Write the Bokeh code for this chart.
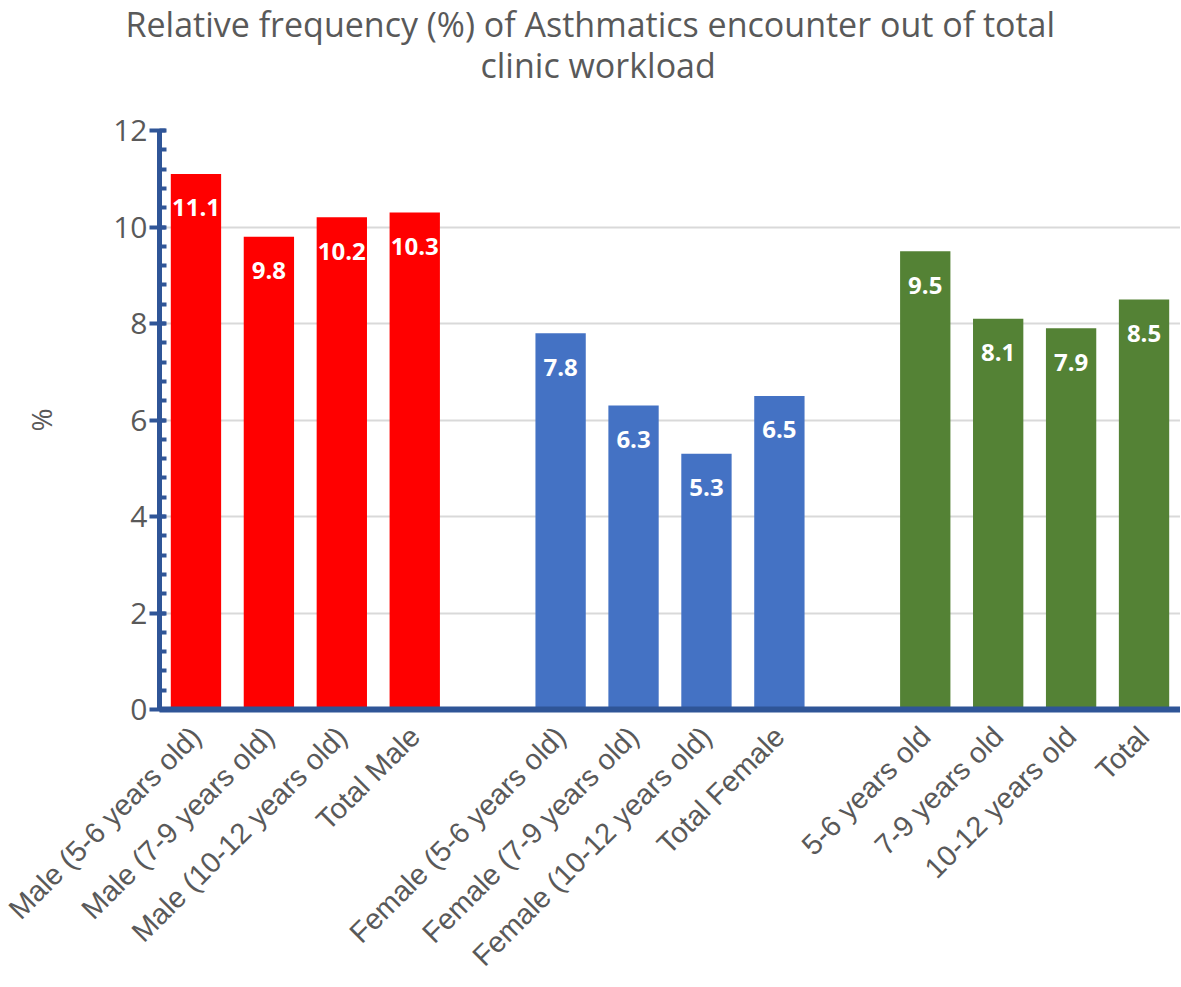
from bokeh.plotting import figure
from bokeh.models import FactorRange, Range1d, SingleIntervalTicker, Title, ColumnDataSource
from bokeh.core.properties import value
from bokeh.embed import file_html
from bokeh.resources import INLINE
import math

# ---- data ----
male_labels = ["Male (5-6 years old)", "Male (7-9 years old)", "Male (10-12 years old)", "Total Male"]
male_values = [11.1, 9.8, 10.2, 10.3]
female_labels = ["Female (5-6 years old)", "Female (7-9 years old)", "Female (10-12 years old)", "Total Female"]
female_values = [7.8, 6.3, 5.3, 6.5]
total_labels = ["5-6 years old", "7-9 years old", "10-12 years old", "Total"]
total_values = [9.5, 8.1, 7.9, 8.5]
y_ticks_interval = 2
title_lines = ["Relative frequency (%) of Asthmatics encounter out of total", "clinic workload"]
y_label = "%"

factors = male_labels + [" "] + female_labels + ["  "] + total_labels

AXIS_COLOR = "#2F5597"
TEXT_COLOR = "#595959"

p = figure(x_range=FactorRange(factors=factors), y_range=Range1d(0, 12),
           width=1180, height=987, output_backend="svg", toolbar_location=None,
           min_border_left=159, min_border_right=0, min_border_top=0, min_border_bottom=278)
p.outline_line_color = None
p.background_fill_color = "white"

groups = [(male_labels, male_values, "#FF0000"),
          (female_labels, female_values, "#4472C4"),
          (total_labels, total_values, "#548235")]
for labels, vals, color in groups:
    src = ColumnDataSource(dict(x=labels, top=vals, txt=[f"{v:.1f}" for v in vals]))
    p.vbar(x="x", top="top", width=0.69, source=src, fill_color=color, line_color=None)
    p.text(x="x", y="top", text="txt", source=src, y_offset=34, text_align="center",
           text_baseline="middle", text_color="white", text_font=value("Open Sans"),
           text_font_size="24px", text_font_style="bold")

# grid
p.xgrid.grid_line_color = None
p.ygrid.grid_line_color = "#D9D9D9"
p.ygrid.grid_line_width = 2

# y axis
yax = p.yaxis[0]
yax.ticker = SingleIntervalTicker(interval=y_ticks_interval, num_minor_ticks=5)
yax.axis_line_color = AXIS_COLOR
yax.axis_line_width = 5
yax.major_tick_line_color = AXIS_COLOR
yax.major_tick_line_width = 4
yax.major_tick_out = 10
yax.major_tick_in = 6
yax.minor_tick_line_color = AXIS_COLOR
yax.minor_tick_line_width = 4
yax.minor_tick_in = 7
yax.minor_tick_out = 0
yax.major_label_text_font = "Open Sans"
yax.major_label_text_font_size = "30px"
yax.major_label_text_color = TEXT_COLOR
yax.major_label_standoff = 2
yax.axis_label = y_label
yax.axis_label_text_font = "Open Sans"
yax.axis_label_text_font_size = "28px"
yax.axis_label_text_font_style = "normal"
yax.axis_label_text_color = TEXT_COLOR
yax.axis_label_standoff = 50

# x axis
xax = p.xaxis[0]
xax.axis_line_color = AXIS_COLOR
xax.axis_line_width = 6
xax.major_tick_line_color = None
xax.minor_tick_line_color = None
xax.major_label_orientation = math.pi / 4
xax.major_label_text_font = "Liberation Sans"
xax.major_label_text_font_size = "29px"
xax.major_label_text_color = TEXT_COLOR
xax.major_label_standoff = 16

# title: two lines stacked above the frame, plus an empty spacer next to the frame
p.title.text = title_lines[0]
p.title.align = "left"
p.title.offset = -34
p.title.standoff = -3
p.title.text_font = "Open Sans"
p.title.text_font_size = "34px"
p.title.text_font_style = "normal"
p.title.text_color = TEXT_COLOR
p.add_layout(Title(text=" ", text_font_size="10px", standoff=36), "above")
p.add_layout(Title(text=title_lines[1], align="left", offset=321, standoff=-12, text_font="Open Sans",
                   text_font_size="34px", text_font_style="normal", text_color=TEXT_COLOR), "above")

open("out.html", "w").write(file_html(p, INLINE))
